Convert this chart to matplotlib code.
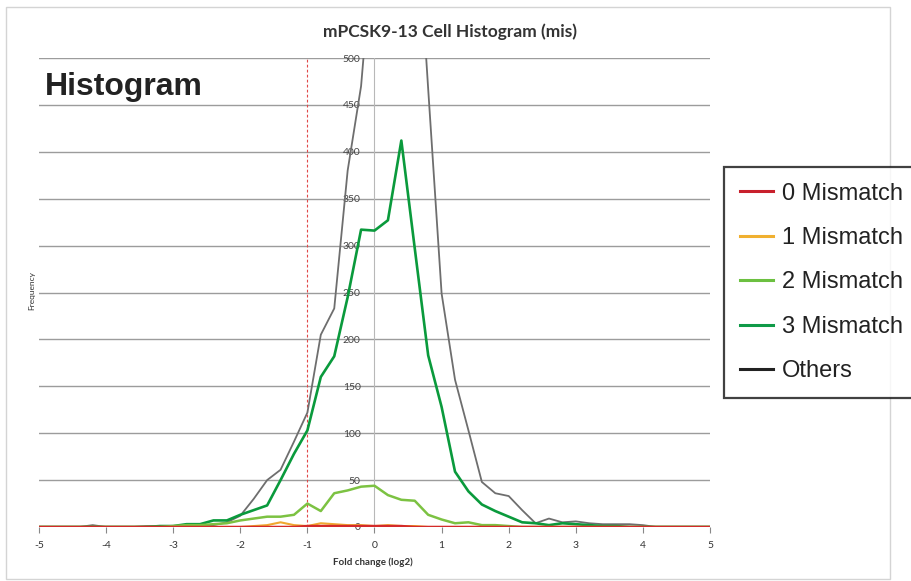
"""Recreates the mPCSK9-13 cell histogram (mismatch classes)."""

import matplotlib
matplotlib.use("Agg")
import matplotlib.pyplot as plt
from matplotlib.lines import Line2D
from matplotlib.patches import Rectangle

plt.rcParams["axes.unicode_minus"] = False

# bins on the fold change axis (log2)
bins = [-5.0, -4.8, -4.6, -4.4, -4.2, -4.0, -3.8, -3.6, -3.4, -3.2,
        -3.0, -2.8, -2.6, -2.4, -2.2, -2.0, -1.8, -1.6, -1.4, -1.2,
        -1.0, -0.8, -0.6, -0.4, -0.2, 0.0, 0.2, 0.4, 0.6, 0.8,
        1.0, 1.2, 1.4, 1.6, 1.8, 2.0, 2.2, 2.4, 2.6, 2.8,
        3.0, 3.2, 3.4, 3.6, 3.8, 4.0, 4.2, 4.4, 4.6, 4.8, 5.0]

mis0 = [0, 0, 0, 0, 0, 0, 0, 0, 0, 0,
        0, 0, 0, 0, 0, 0, 0, 0, 0, 0,
        1, 1, 1, 1, 1, 1, 1, 1, 0, 0,
        0, 0, 0, 0, 0, 0, 0, 0, 0, 0,
        0, 0, 0, 0, 0, 0, 0, 0, 0, 0, 0]
mis1 = [0, 0, 0, 0, 0, 0, 0, 0, 0, 0,
        0, 0, 0, 0, 0, 0, 1, 2, 5, 2,
        1, 4, 3, 2, 2, 1, 2, 1, 1, 0,
        0, 0, 0, 0, 0, 0, 0, 0, 0, 0,
        0, 0, 0, 0, 0, 0, 0, 0, 0, 0, 0]
mis2 = [0, 0, 0, 0, 0, 0, 0, 0, 0, 0,
        1, 2, 2, 3, 4, 7, 9, 11, 11, 13,
        25, 17, 36, 39, 43, 44, 34, 29, 28, 13,
        8, 4, 5, 2, 2, 1, 0, 0, 0, 0,
        0, 0, 0, 0, 0, 0, 0, 0, 0, 0, 0]
mis3 = [0, 0, 0, 0, 0, 0, 0, 0, 0, 1,
        1, 3, 3, 7, 7, 13, 18, 23, 50, 78,
        103, 160, 182, 245, 317, 316, 327, 412, 297, 183,
        128, 59, 38, 24, 17, 11, 5, 4, 2, 4,
        3, 2, 1, 1, 0, 0, 0, 0, 0, 0, 0]
others = [0, 0, 0, 0, 2, 0, 0, 0, 1, 1,
          1, 1, 2, 2, 5, 12, 30, 50, 61, 91,
          122, 205, 233, 380, 470, 640, 900, 950, 690, 467,
          249, 157, 103, 48, 36, 33, 18, 4, 9, 5,
          6, 4, 3, 3, 3, 2, 0, 0, 0, 0, 0]

labels = ["0 Mismatch", "1 Mismatch", "2 Mismatch", "3 Mismatch", "Others"]
line_colors = ["#d42a2a", "#f0a830", "#7cc242", "#0a9a3c", "#6e6e6e"]
legend_colors = ["#c8202c", "#f0b030", "#6cc040", "#109a48", "#222222"]
widths = [1.8, 1.5, 1.8, 1.9, 1.3]

fig = plt.figure(figsize=(9.12, 5.81), dpi=100)
ax = fig.add_axes([39 / 912, 54 / 581, 671 / 912, 469 / 581])

# draw others first so the mismatch classes sit on top
series = [mis0, mis1, mis2, mis3, others]
for i in range(len(series) - 1, -1, -1):
    ax.plot(bins, series[i], color=line_colors[i], lw=widths[i],
            zorder=3 + (len(series) - i), clip_on=True)

ax.set_xlim(-5, 5)
ax.set_ylim(0, 500)
ax.set_xticks(range(-5, 6))
ax.set_yticks(range(0, 501, 50))

ax.yaxis.grid(True, color="#9c9c9c", lw=1.0)
ax.set_axisbelow(True)
ax.axvline(0, color="#b8b8b8", lw=0.8, zorder=1)
ax.axvline(-1, color="#e04848", lw=0.8, ls=(0, (2.5, 2)), zorder=2)

for side in ["top", "right", "bottom"]:
    ax.spines[side].set_visible(False)
ax.spines["left"].set_position(("data", 0))
ax.spines["left"].set_visible(False)

ax.tick_params(axis="y", length=0, pad=10, labelsize=7.5, labelcolor="#444444")
ax.tick_params(axis="x", length=4, width=0.8, color="#888888", pad=6,
               labelsize=7.5, labelcolor="#333333")
for lab in ax.get_xticklabels() + ax.get_yticklabels():
    lab.set_fontfamily("Lato")

fig.text(0.493, 1 - 32 / 581, "mPCSK9-13 Cell Histogram (mis)", ha="center", va="center",
         fontsize=12.5, fontweight="bold", family="Lato", color="#333333")
fig.text(45 / 912, 1 - 95 / 581, "Histogram", ha="left", va="baseline",
         fontsize=23, fontweight="bold", family="Liberation Sans", color="#222222")
fig.text(0.035, 0.50, "Frequency", rotation=90, ha="center", va="center",
         fontsize=6, family="Lato", color="#333333")
fig.text(0.409, 1 - 562 / 581, "Fold change (log2)", ha="center", va="center",
         fontsize=7, fontweight="bold", family="Lato", color="#333333")

# outer chart frame
fig.patches.append(Rectangle((6 / 912, 2 / 581), 884 / 912, 572 / 581,
                             transform=fig.transFigure, fill=False,
                             edgecolor="#d4d4d4", lw=1.0))

handles = [Line2D([], [], color=c, lw=2.2) for c in legend_colors]
leg = fig.legend(handles, labels, loc="upper left",
                 bbox_to_anchor=(724 / 912, 1 - 167 / 581),
                 prop={"family": "Liberation Sans", "size": 17},
                 frameon=True, fancybox=False, borderpad=0.66,
                 labelspacing=0.95, handlelength=1.4, handletextpad=0.4,
                 borderaxespad=0)
leg.get_frame().set_edgecolor("#111111")
leg.get_frame().set_linewidth(1.6)
for t in leg.get_texts():
    t.set_color("#222222")

fig.savefig("out.png", dpi=100)
